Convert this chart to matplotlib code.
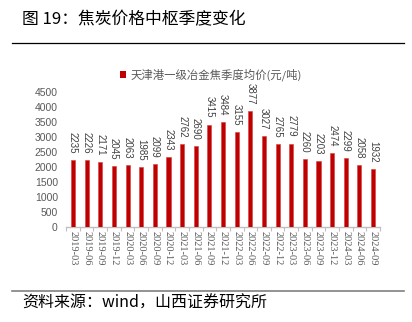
import matplotlib
matplotlib.use("Agg")
import matplotlib.pyplot as plt
from matplotlib.lines import Line2D
from matplotlib.patches import Patch

plt.rcParams['font.family'] = ['Noto Sans CJK SC', 'DejaVu Sans']

quarters = ["2019-03", "2019-06", "2019-09", "2019-12", "2020-03", "2020-06", "2020-09", "2020-12",
            "2021-03", "2021-06", "2021-09", "2021-12", "2022-03", "2022-06", "2022-09", "2022-12",
            "2023-03", "2023-06", "2023-09", "2023-12", "2024-03", "2024-06", "2024-09"]
prices = [2235, 2226, 2171, 2045, 2063, 1985, 2099, 2343, 2762, 2690, 3415, 3484, 3155, 3877,
          3027, 2765, 2779, 2260, 2203, 2474, 2299, 2058, 1932]
yticks = [0, 500, 1000, 1500, 2000, 2500, 3000, 3500, 4000, 4500]
series_name = "天津港一级冶金焦季度均价(元/吨)"
title = "图 19：焦炭价格中枢季度变化"
source = "资料来源：wind，山西证券研究所"

W, H = 412, 322
fig = plt.figure(figsize=(W / 100, H / 100), dpi=100)

ax_l, ax_r, ax_t, ax_b = 66.2, 379.9, 92, 227
ax = fig.add_axes([ax_l / W, 1 - ax_b / H, (ax_r - ax_l) / W, (ax_b - ax_t) / H])

xs = list(range(len(prices)))
ax.bar(xs, prices, width=0.3, color='#C00000', edgecolor='#D04040', linewidth=0.4, zorder=3)
for x, v in zip(xs, prices):
    ax.text(x, v + 220, str(v), rotation=-90, ha='center', va='bottom',
            fontsize=7, color='#404040', family='Liberation Sans')

ax.set_xlim(-0.5, len(prices) - 0.5)
ax.set_ylim(0, 4500)
ax.set_yticks(yticks)
ax.set_yticklabels([str(t) for t in yticks], fontsize=7.5, color='#595959', family='Liberation Sans')
ax.set_xticks(xs)
ax.set_xticklabels(quarters, rotation=-90, fontsize=7.5, color='#595959', family='Liberation Serif')
ax.tick_params(axis='x', length=0, pad=3)
ax.tick_params(axis='y', length=0, pad=6)
ax.set_xticks([x - 0.5 for x in xs] + [len(xs) - 0.5], minor=True)
ax.tick_params(axis='x', which='minor', length=3, color='#BFBFBF', width=0.8)
for s in ['top', 'right', 'left']:
    ax.spines[s].set_visible(False)
ax.spines['bottom'].set_color('#BFBFBF')
ax.spines['bottom'].set_linewidth(1.0)

leg = fig.legend(handles=[Patch(facecolor='#C00000', edgecolor='none')], labels=[series_name],
                 loc='center', bbox_to_anchor=(211 / W, 1 - 75 / H), frameon=False,
                 fontsize=8.2, handlelength=0.55, handleheight=0.55, handletextpad=0.35,
                 labelcolor='#595959')

fig.text(22 / W, 1 - 20 / H, title, fontsize=12.1, ha='left', va='center', color='#000000')
fig.add_artist(Line2D([12 / W, 404 / W], [1 - 43 / H, 1 - 43 / H], color='black', linewidth=0.9))
fig.add_artist(Line2D([12 / W, 404 / W], [1 - 291 / H, 1 - 291 / H], color='#808080', linewidth=1.2))
fig.text(22 / W, 1 - 303 / H, source, fontsize=11.5, ha='left', va='center', color='#000000')

fig.savefig('out.png', dpi=100)
